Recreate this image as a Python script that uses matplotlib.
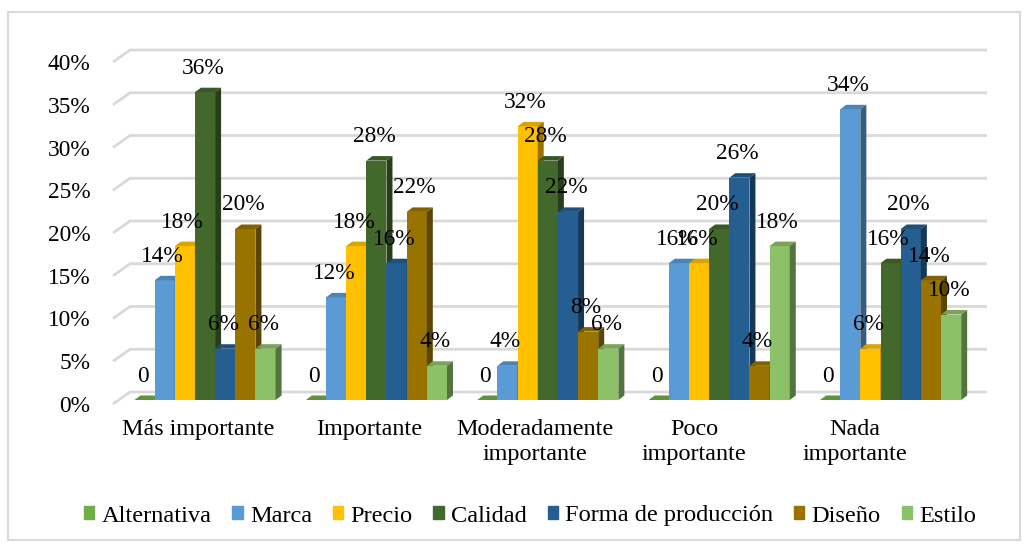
import matplotlib
matplotlib.use("Agg")
import matplotlib.pyplot as plt
import matplotlib.transforms as mtransforms
from matplotlib.patches import Polygon, Rectangle
import numpy as np

plt.rcParams['font.family'] = ['Liberation Serif', 'DejaVu Serif']

# datos (%)
categorias = ["Más importante", "Importante", "Moderadamente\nimportante",
              "Poco\nimportante", "Nada\nimportante"]
series = ["Alternativa", "Marca", "Precio", "Calidad", "Forma de producción", "Diseño", "Estilo"]
alternativa = [0, 0, 0, 0, 0]
marca = [14, 12, 4, 16, 34]
precio = [18, 18, 32, 16, 6]
calidad = [36, 28, 28, 20, 16]
forma = [6, 16, 22, 26, 20]
diseno = [20, 22, 8, 4, 14]
estilo = [6, 4, 6, 18, 10]
valores = [alternativa, marca, precio, calidad, forma, diseno, estilo]
colores = ["#70AD47", "#5B9BD5", "#FFC000", "#43682B", "#255E91", "#997300", "#8CC168"]
yticks = [0, 5, 10, 15, 20, 25, 30, 35, 40]

W, H, DPI = 1027, 544, 100
fig = plt.figure(figsize=(W / DPI, H / DPI), dpi=DPI)

# marco exterior
fig.patches.append(Rectangle((8 / W, 4 / H), 1012 / W, 528 / H, transform=fig.transFigure,
                             fill=False, edgecolor="#D9D9D9", lw=1.5))

px_x = 171.4          # pixeles por categoria
px_y = 342 / 40       # pixeles por punto porcentual
left_px = 205 - 0.5 * px_x
ax = fig.add_axes([left_px / W, 144 / H, 5 * px_x / W, 342 / H])
ax.set_xlim(-0.5, 4.5)
ax.set_ylim(0, 40)
for s in ax.spines.values():
    s.set_visible(False)

# pared del fondo (lineas de division)
gx0 = (113 - 205) / px_x
gx1 = (130 - 205) / px_x
gx2 = (987 - 205) / px_x
up = 8 / px_y
down = 4 / px_y
for v in yticks:
    ax.plot([gx0, gx1, gx2], [v - down, v + up, v + up], color="#D9D9D9", lw=2,
            clip_on=False, zorder=0, solid_capstyle="butt")

# barras con efecto 3D
n = len(series)
w = 1 / 8.5
dx = 6 / px_x
dy = 4.5 / px_y
x = np.arange(len(categorias))


def sombra(c, f):
    r, g, b = matplotlib.colors.to_rgb(c)
    return (r * f, g * f, b * f)


for i, (nombre, vals, c) in enumerate(zip(series, valores, colores)):
    xs = x + (i - (n - 1) / 2) * w
    z = 2 + i
    ax.bar(xs, vals, width=w, color=c, zorder=z, label=nombre, linewidth=0)
    for xc, h in zip(xs, vals):
        x0, x1 = xc - w / 2, xc + w / 2
        ax.add_patch(Polygon([(x0, h), (x1, h), (x1 + dx, h + dy), (x0 + dx, h + dy)],
                             closed=True, facecolor=sombra(c, 0.85), lw=0, zorder=z))
        ax.add_patch(Polygon([(x1, 0), (x1, h), (x1 + dx, h + dy), (x1 + dx, dy)],
                             closed=True, facecolor=sombra(c, 0.6), lw=0, zorder=z))
        txt = "0" if h == 0 else f"{h}%"
        ax.annotate(txt, (xc, h), xytext=(-2, 24), textcoords="offset pixels",
                    ha="center", va="center", fontsize=16.8, zorder=20)

# ejes
ax.set_yticks(yticks, [f"{v}%" for v in yticks])
ax.tick_params(axis="y", length=0, pad=21, labelsize=16.8)
for lab in ax.get_yticklabels():
    lab.set_transform(lab.get_transform() +
                      mtransforms.ScaledTranslation(0, -4 / DPI, fig.dpi_scale_trans))

ax.set_xticks(x, categorias)
ax.tick_params(axis="x", length=0, pad=14, labelsize=17.4)
label_shift_px = [-6.5, -7, -13, -25, -36]
for lab, sh in zip(ax.get_xticklabels(), label_shift_px):
    lab.set_linespacing(1.25)
    lab.set_transform(lab.get_transform() +
                      mtransforms.ScaledTranslation(sh / DPI, 0, fig.dpi_scale_trans))

handles = [Rectangle((0, 0), 1, 1, color=c) for c in colores]
fig.legend(handles, series, loc="center", bbox_to_anchor=(530 / W, 1 - 516 / H), ncol=7,
           frameon=False, fontsize=17.6, handlelength=0.42, handleheight=0.42,
           handletextpad=0.3, columnspacing=0.85, borderpad=0)

fig.savefig("out.png", dpi=DPI)
